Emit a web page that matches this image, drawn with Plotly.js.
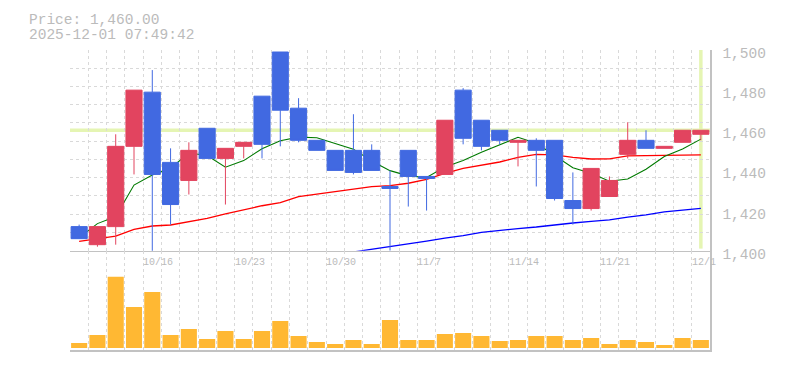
<!DOCTYPE html>
<html>
<head>
<meta charset="utf-8">
<script src="https://cdn.plot.ly/plotly-3.0.1.min.js"></script>
<style>html,body{margin:0;padding:0;background:#fff;}#chart{width:785px;height:370px;}</style>
</head>
<body>
<div id="chart"></div>
<script>
// ---- data ----
const dates = ['10/9','10/10','10/14','10/15','10/16','10/17','10/20','10/21','10/22','10/23','10/24','10/27','10/28','10/29','10/30','10/31','11/4','11/5','11/6','11/7','11/10','11/11','11/12','11/13','11/14','11/17','11/18','11/19','11/20','11/21','11/25','11/26','11/27','11/28','12/1'];
const openP  = [1412,1403,1412,1452,1479,1444,1435,1461,1446,1452,1477,1499,1471,1455,1450,1450,1450,1432,1450,1437,1438,1480,1465,1460,1454,1455,1455,1425,1421,1427,1448,1455,1451,1454,1458];
const highP  = [1413,1412,1458,1480,1490,1451,1454,1461,1451,1454,1477,1499,1476,1455,1450,1468,1453,1440,1450,1437,1465,1481,1465,1460,1455,1456,1455,1439,1441,1437,1464,1460,1452,1460,1460];
const lowP   = [1406,1402,1403,1438,1398,1413,1428,1446,1423,1446,1446,1452,1454,1450,1440,1438,1440,1400,1422,1420,1438,1453,1450,1453,1442,1432,1425,1413,1420,1427,1446,1451,1451,1454,1455];
const closeP = [1406,1412,1452,1480,1438,1423,1450,1446,1451,1454,1453,1470,1455,1450,1440,1439,1440,1431,1437,1436,1465,1456,1452,1455,1455,1450,1426,1421,1441,1435,1455,1451,1452,1460,1460];
const ma5  = [1406.5,1413.5,1417.0,1432.7,1437.7,1441.1,1448.7,1447.4,1441.6,1444.9,1450.8,1454.8,1456.6,1456.3,1453.4,1450.6,1444.7,1439.9,1437.3,1436.5,1441.7,1444.9,1449.1,1452.7,1456.5,1453.5,1447.5,1441.3,1438.6,1434.6,1435.7,1440.6,1446.9,1450.7,1455.6];
const ma25 = [1404.7,1406.0,1407.3,1410.6,1412.3,1412.8,1414.5,1416.1,1418.3,1420.3,1422.4,1423.9,1426.9,1428.2,1429.4,1430.7,1431.9,1432.4,1433.6,1435.5,1438.5,1441.0,1442.5,1444.2,1446.5,1448.0,1447.7,1446.5,1445.7,1445.8,1447.2,1447.3,1447.5,1447.7,1447.7];
const ma75 = [null,null,null,null,null,null,null,null,null,null,null,null,null,null,1398.0,1399.3,1400.7,1402.0,1403.3,1404.8,1406.3,1407.5,1409.1,1410.2,1411.0,1411.8,1412.9,1413.8,1414.6,1415.4,1416.7,1417.8,1419.3,1420.1,1421.1];
const volume = [5000,13000,71300,41000,56000,13000,19000,9000,17000,9000,17000,27000,12000,6000,4000,8000,4000,28000,8000,8000,14000,15000,12000,7000,8000,12000,12000,8000,10000,4000,8000,6000,3000,10000,8000];
const dateLabels = ['10/16','10/23','10/30','11/7','11/14','11/21','12/1'];
const headerLines = ['Price: 1,460.00','2025-12-01 07:49:42'];

// ---- styles ----
const GRID = '#d9d9d9';
const DASH = '3px,3px';
const AXIS = '#c2c2c2';
const TXT = '#bbbbbb';
const FONT = 'Liberation Mono, DejaVu Sans Mono, monospace';
const UP = '#e2445f';
const DOWN = '#4169e1';

const traces = [
  {type:'bar', x:dates, y:volume, xaxis:'x2', yaxis:'y2', marker:{color:'#ffb833', line:{width:0}}, hoverinfo:'skip'},
  {type:'scatter', mode:'lines', x:dates, y:ma75, xaxis:'x', yaxis:'y', line:{color:'#0000ff', width:1.3}, hoverinfo:'skip', connectgaps:false},
  {type:'scatter', mode:'lines', x:dates, y:ma25, xaxis:'x', yaxis:'y', line:{color:'#ff0000', width:1.3}, hoverinfo:'skip'},
  {type:'scatter', mode:'lines', x:dates, y:ma5, xaxis:'x', yaxis:'y', line:{color:'#007a00', width:1.1}, hoverinfo:'skip'},
  {type:'candlestick', x:dates, open:openP, high:highP, low:lowP, close:closeP, xaxis:'x', yaxis:'y3',
   increasing:{line:{color:UP, width:1}, fillcolor:UP},
   decreasing:{line:{color:DOWN, width:1}, fillcolor:DOWN},
   whiskerwidth:0, hoverinfo:'skip'}
];

const last = dates.length - 1;
const annotations = dateLabels.map(l => ({
  x: dates.indexOf(l) - 0.5, xref:'x', y:0.292, yref:'paper',
  xanchor:'left', yanchor:'middle', text:l, showarrow:false, borderpad:0,
  font:{family:FONT, size:10, color:TXT}, xshift:-1
}));
annotations.push({x:-0.0625, xref:'paper', y:1.100, yref:'paper', xanchor:'left', yanchor:'middle', text:headerLines[0], showarrow:false, borderpad:0, xshift:-2, font:{family:FONT, size:14.5, color:TXT}});
annotations.push({x:-0.0625, xref:'paper', y:1.050, yref:'paper', xanchor:'left', yanchor:'middle', text:headerLines[1], showarrow:false, borderpad:0, xshift:-2, font:{family:FONT, size:14.5, color:TXT}});

const xGrid = {type:'category', categoryorder:'array', categoryarray:dates, tickmode:'linear', tick0:0, dtick:1,
  tickson:'boundaries', showgrid:true, gridcolor:GRID, griddash:DASH, gridwidth:1,
  showticklabels:false, ticks:'', zeroline:false, showline:true, linecolor:AXIS, linewidth:1.5, range:[-0.5, last+0.5],
  rangeslider:{visible:false}};

const layout = {
  width:785, height:370,
  margin:{l:70, r:75, t:50, b:20, pad:0},
  paper_bgcolor:'#ffffff', plot_bgcolor:'#ffffff',
  showlegend:false,
  boxgap:0.12, boxgroupgap:0, bargap:0.12,
  font:{family:FONT, color:TXT},
  xaxis:Object.assign({}, xGrid, {anchor:'y'}),
  xaxis2:Object.assign({}, xGrid, {anchor:'y2', matches:'x'}),
  yaxis:{domain:[0.331,1], range:[1400,1500], side:'right', anchor:'x', tickmode:'linear', tick0:1400, dtick:20,
    tickformat:',d', showgrid:false, zeroline:false, ticks:'',
    minor:{tickmode:'linear', tick0:1400, dtick:100/11, showgrid:true, gridcolor:GRID, griddash:DASH, gridwidth:1, ticks:''},
    showline:true, linecolor:AXIS, linewidth:1.5, tickfont:{family:FONT, size:14.5, color:TXT}, ticklabelstandoff:8, ticklabelshift:3},
  yaxis3:{overlaying:'y', range:[1400,1500], visible:false, side:'right'},
  yaxis2:{domain:[0,0.331], range:[-2000,97300], side:'right', anchor:'x2', showgrid:false, zeroline:false,
    showticklabels:false, ticks:'', showline:true, linecolor:AXIS, linewidth:1.5},
  shapes:[
    {type:'line', xref:'paper', x0:0, x1:1, yref:'y', y0:closeP[last], y1:closeP[last], line:{color:'#e5f5b3', width:3.5}, layer:'below'},
    {type:'line', xref:'x', x0:last, x1:last, yref:'paper', y0:0.338, y1:1, line:{color:'#e5f5b3', width:3.5}, layer:'below'}
  ],
  annotations:annotations
};

Plotly.newPlot('chart', traces, layout, {staticPlot:true, displayModeBar:false});
</script>
</body>
</html>
